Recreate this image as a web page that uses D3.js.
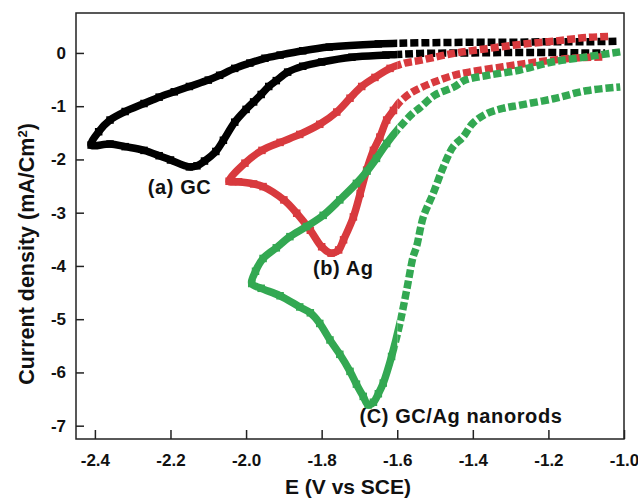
<!DOCTYPE html>
<html>
<head>
<meta charset="utf-8">
<script src="https://cdn.jsdelivr.net/npm/d3@7"></script>
<style>
	body { margin: 0; background: #fff; }
	text { font-family: 'Liberation Sans', Arial, sans-serif; font-weight: bold; }
</style>
</head>
<body>
<div id="playground"></div>
<script>
// Data: [E (V vs SCE), current density (mA/cm2)]

// (a) GC - upper branch from the right, then lower branch back to the right
var gcPoints = [
	[-1.02, 0.22], [-1.10, 0.21], [-1.20, 0.21], [-1.30, 0.20], [-1.40, 0.20], [-1.54, 0.19],
	[-1.65, 0.17], [-1.78, 0.11], [-1.85, 0.04], [-1.91, -0.04], [-1.95, -0.10], [-1.99, -0.19],
	[-2.03, -0.29], [-2.07, -0.42], [-2.10, -0.51], [-2.15, -0.63], [-2.19, -0.73], [-2.23, -0.83],
	[-2.27, -0.95], [-2.32, -1.10], [-2.36, -1.26], [-2.39, -1.48], [-2.41, -1.73],
	[-2.36, -1.71], [-2.32, -1.76], [-2.27, -1.83], [-2.23, -1.93], [-2.20, -2.01], [-2.15, -2.14],
	[-2.13, -2.12], [-2.11, -2.03], [-2.08, -1.85], [-2.06, -1.64], [-2.03, -1.30], [-2.00, -1.06],
	[-1.98, -0.92], [-1.96, -0.78], [-1.94, -0.63], [-1.92, -0.52], [-1.89, -0.36], [-1.85, -0.25],
	[-1.80, -0.17], [-1.72, -0.08], [-1.63, -0.04], [-1.54, -0.01], [-1.40, 0.00], [-1.25, 0.01],
	[-1.10, 0.00], [-1.05, 0.00]
]

// (b) Ag
var agPoints = [
	[-1.042, 0.31], [-1.098, 0.29], [-1.188, 0.22], [-1.275, 0.16], [-1.363, 0.08], [-1.453, -0.01],
	[-1.540, -0.14], [-1.580, -0.19], [-1.619, -0.29], [-1.659, -0.46], [-1.694, -0.63], [-1.725, -0.85],
	[-1.760, -1.11], [-1.805, -1.34], [-1.858, -1.53], [-1.910, -1.68], [-1.958, -1.83], [-2.003, -2.07],
	[-2.045, -2.41],
	[-2.02, -2.42], [-1.98, -2.46], [-1.955, -2.51], [-1.90, -2.76], [-1.866, -3.01], [-1.83, -3.33],
	[-1.80, -3.64], [-1.775, -3.76], [-1.755, -3.70], [-1.742, -3.51], [-1.716, -3.08], [-1.698, -2.64],
	[-1.681, -2.20], [-1.663, -1.83], [-1.646, -1.58], [-1.628, -1.26], [-1.61, -1.08], [-1.593, -0.92],
	[-1.566, -0.76], [-1.54, -0.66], [-1.50, -0.54], [-1.45, -0.42], [-1.41, -0.36], [-1.32, -0.26],
	[-1.23, -0.17], [-1.14, -0.10], [-1.05, -0.075]
]

// (C) GC/Ag nanorods
var nanorodPoints = [
	[-1.01, 0.02], [-1.10, -0.075], [-1.19, -0.17], [-1.275, -0.32], [-1.36, -0.42], [-1.42, -0.51],
	[-1.45, -0.64], [-1.50, -0.79], [-1.54, -1.03], [-1.56, -1.14], [-1.593, -1.39], [-1.628, -1.70],
	[-1.655, -1.98], [-1.68, -2.22], [-1.708, -2.45], [-1.752, -2.76], [-1.796, -3.05], [-1.84, -3.26],
	[-1.884, -3.45], [-1.92, -3.66], [-1.955, -3.86], [-1.975, -4.10], [-1.985, -4.33],
	[-1.96, -4.42], [-1.91, -4.56], [-1.858, -4.77], [-1.83, -4.88], [-1.805, -5.08], [-1.778, -5.39],
	[-1.752, -5.66], [-1.725, -5.98], [-1.708, -6.22], [-1.69, -6.45], [-1.677, -6.61], [-1.663, -6.56],
	[-1.65, -6.40], [-1.637, -6.20], [-1.615, -5.70], [-1.593, -5.08], [-1.575, -4.45], [-1.558, -3.83],
	[-1.549, -3.64], [-1.531, -3.08], [-1.505, -2.64], [-1.478, -2.14], [-1.452, -1.76], [-1.426, -1.58],
	[-1.40, -1.32], [-1.363, -1.14], [-1.32, -1.04], [-1.275, -0.98], [-1.187, -0.86], [-1.10, -0.71],
	[-1.01, -0.64]
]

var seriesNames = ['(a) GC', '(b) Ag', '(C) GC/Ag nanorods']
var seriesColors = ['#000000', '#d83a3e', '#33a852']
// where each curve label starts (E, current density at baseline)
var labelE = [-2.26, -1.823, -1.70]
var labelJ = [-2.65, -4.17, -6.95]

var xTicks = [-2.4, -2.2, -2.0, -1.8, -1.6, -1.4, -1.2, -1.0]
var yTicks = [0, -1, -2, -3, -4, -5, -6, -7]

// Settings
var settings = {}
settings.width = 638
settings.height = 498
settings.margin = {top: 13, right: 14, bottom: 59, left: 76}
settings.marker_size = 7.5
settings.line_width = 7.5
settings.split_E = -1.6 // right of this the symbols are spaced apart
settings.axis_color = '#222'

var W = settings.width - settings.margin.left - settings.margin.right
var H = settings.height - settings.margin.top - settings.margin.bottom

var svg = d3.select('#playground').append('svg')
	.attr('width', settings.width)
	.attr('height', settings.height)

var plot = svg.append('g')
	.attr('transform', 'translate(' + settings.margin.left + ',' + settings.margin.top + ')')

var x = d3.scaleLinear().domain([-2.45, -1.0]).range([0, W])
var y = d3.scaleLinear().domain([-7.25, 0.75]).range([H, 0])

// Clip regions: dense (solid) on the left, spaced symbols on the right
var defs = svg.append('defs')
defs.append('clipPath').attr('id', 'clip-dense').append('rect')
	.attr('x', -20).attr('y', -20).attr('width', x(settings.split_E) + 20).attr('height', H + 40)
defs.append('clipPath').attr('id', 'clip-sparse').append('rect')
	.attr('x', x(settings.split_E)).attr('y', -20).attr('width', W).attr('height', H + 40)

// Curves
var line = d3.line()
	.x(function(d){ return x(d[0]) })
	.y(function(d){ return y(d[1]) })
	.curve(d3.curveCatmullRom.alpha(0.5))

var allSeries = [gcPoints, agPoints, nanorodPoints]

allSeries.forEach(function(points, i){
	var g = plot.append('g')

	g.append('path')
		.attr('d', line(points))
		.attr('clip-path', 'url(#clip-dense)')
		.attr('fill', 'none')
		.attr('stroke', seriesColors[i])
		.attr('stroke-width', settings.line_width)
		.attr('stroke-linejoin', 'round')

	g.append('path')
		.attr('d', line(points))
		.attr('clip-path', 'url(#clip-sparse)')
		.attr('fill', 'none')
		.attr('stroke', seriesColors[i])
		.attr('stroke-width', settings.line_width)
		.attr('stroke-dasharray', '8 3')

	g.selectAll('rect')
		.data(points.filter(function(d){ return d[0] < settings.split_E }))
		.join('rect')
		.attr('x', function(d){ return x(d[0]) - settings.marker_size / 2 })
		.attr('y', function(d){ return y(d[1]) - settings.marker_size / 2 })
		.attr('width', settings.marker_size)
		.attr('height', settings.marker_size)
		.attr('fill', seriesColors[i])
})

// Frame
plot.append('rect')
	.attr('width', W)
	.attr('height', H)
	.attr('fill', 'none')
	.attr('stroke', settings.axis_color)
	.attr('stroke-width', 1.5)

// Axes with inward ticks (plain hyphen for the minus sign, like the original)
var hyphen = function(fmt){ return function(d){ return d3.format(fmt)(d).replace('\u2212', '-') } }
var xMinor = d3.range(-2.4, -0.95, 0.1)
var yMinor = d3.range(-7, 0.6, 0.5)

var xAxis = plot.append('g').attr('transform', 'translate(0,' + H + ')')
xAxis.call(d3.axisBottom(x).tickValues(xMinor).tickSize(-5).tickFormat(''))
xAxis.call(d3.axisBottom(x).tickValues(xTicks).tickSize(-9).tickPadding(15).tickFormat(hyphen('.1f')))
styleAxis(xAxis)

var yAxis = plot.append('g')
yAxis.call(d3.axisLeft(y).tickValues(yMinor).tickSize(-5).tickFormat(''))
yAxis.call(d3.axisLeft(y).tickValues(yTicks).tickSize(-8).tickPadding(10).tickFormat(hyphen('d')))
styleAxis(yAxis)

// Axis titles
svg.append('text')
	.attr('x', 348)
	.attr('y', 494)
	.attr('text-anchor', 'middle')
	.attr('font-size', 21)
	.attr('fill', '#111')
	.text('E (V vs SCE)')

var yTitle = svg.append('text')
	.attr('transform', 'translate(34,254) rotate(-90)')
	.attr('text-anchor', 'middle')
	.attr('font-size', 21.5)
	.attr('fill', '#111')
yTitle.append('tspan').text('Current density (mA/Cm')
yTitle.append('tspan').attr('baseline-shift', 'super').attr('font-size', 13).text('2')
yTitle.append('tspan').text(')')

// Curve labels
seriesNames.forEach(function(name, i){
	plot.append('text')
		.attr('x', x(labelE[i]))
		.attr('y', y(labelJ[i]))
		.attr('font-size', 20)
		.attr('letter-spacing', 0.6)
		.attr('fill', '#111')
		.text(name)
})

// ---
// Functions

function styleAxis(g) {
	g.select('.domain').remove()
	g.selectAll('.tick line')
		.attr('stroke', settings.axis_color)
		.attr('stroke-width', 1.5)
	g.selectAll('.tick text')
		.attr('font-size', 17)
		.attr('font-family', "'Liberation Sans', Arial, sans-serif")
		.attr('font-weight', 'bold')
		.attr('fill', '#111')
}
</script>
</body>
</html>
